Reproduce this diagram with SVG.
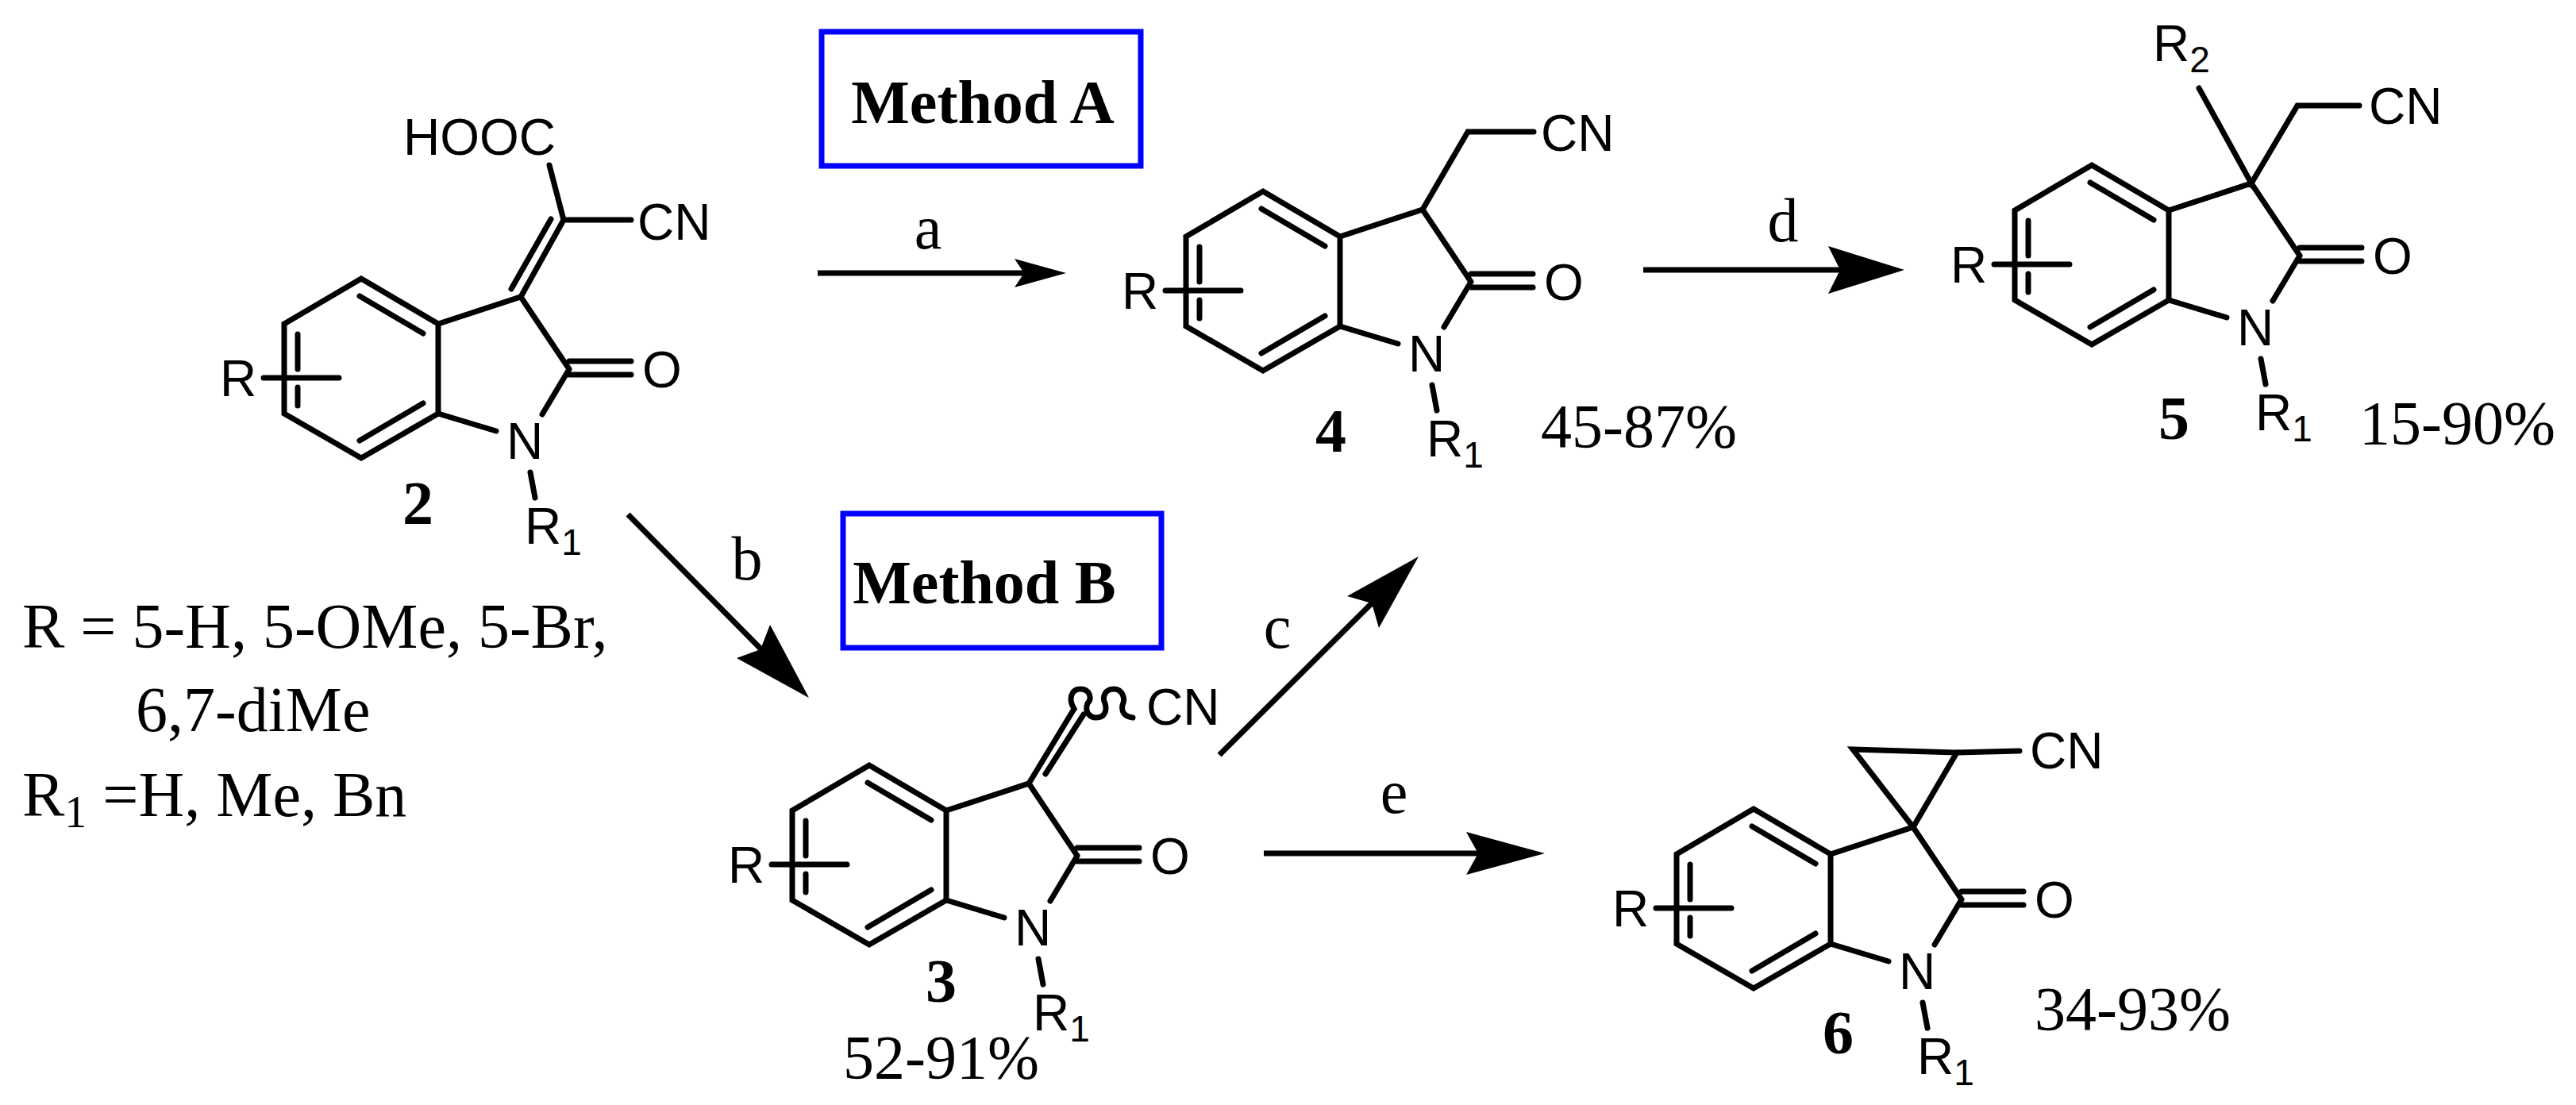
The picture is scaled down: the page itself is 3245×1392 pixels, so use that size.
<svg xmlns="http://www.w3.org/2000/svg" xmlns:xlink="http://www.w3.org/1999/xlink" width="3245" height="1392" viewBox="0 0 3245 1392">
<style>
.b{stroke:#000;stroke-width:7;fill:none;stroke-linecap:round;stroke-linejoin:miter}
.at{font-family:"Liberation Sans",Arial,sans-serif;font-size:64px;fill:#000}
.sub{font-size:46px}
.num{font-family:"Liberation Serif","Times New Roman",serif;font-weight:bold;font-size:78px;fill:#000}
.tx{font-family:"Liberation Serif","Times New Roman",serif;font-size:78px;fill:#000}
.lg{font-family:"Liberation Serif","Times New Roman",serif;font-size:80px;fill:#000}
.box{fill:none;stroke:#0000ff;stroke-width:7}
.mt{font-family:"Liberation Serif","Times New Roman",serif;font-weight:bold;font-size:78px;fill:#000}
.ar{stroke:#000;stroke-width:7;fill:none}
.hd{fill:#000}
</style>
<defs>
<g id="core">
<path class="b" d="M0,0 L97,57 L97,170 L0,226 L-97,170 L-97,57 Z"/>
<path class="b" d="M-80,70 L-80,114 M-80,137 L-80,160 M-2,22 L78,69 M78,157 L-2,204"/>
<path class="b" d="M97,57 L201,23 L262,114 M97,170 L170,192 M228,171 L262,114 M262,104 L340,104 M262,121 L340,121 M213,244 L219,276 M-123,125 L-28,125"/>
<text class="at" x="354" y="137">O</text>
<text class="at" x="183" y="227">N</text>
<text class="at" x="-178" y="148">R</text>
<text class="at" x="206" y="334">R<tspan class="sub" dy="14">1</tspan></text>
</g>
</defs>

<g id="method-a"><rect class="box" x="1035" y="40" width="402" height="169"/><text class="mt" x="1238" y="155" text-anchor="middle">Method A</text></g>
<g id="method-b"><rect class="box" x="1062" y="647" width="401" height="169"/><text class="mt" x="1240" y="760" text-anchor="middle">Method B</text></g>

<g id="compound-2">
<use xlink:href="#core" href="#core" transform="translate(455,351)"/>
<path class="b" d="M656,374 L710,277 L692,208 M694,276 L644,364 M710,277 L795,277"/>
<text class="at" x="508" y="195">HOOC</text>
<text class="at" x="803" y="302">CN</text>
<text class="num" x="507" y="660">2</text>
</g>

<g id="compound-4">
<use xlink:href="#core" href="#core" transform="translate(1591,241)"/>
<path class="b" d="M1792,264 L1849,166 L1932,166"/>
<text class="at" x="1941" y="190">CN</text>
<text class="num" x="1657" y="569">4</text>
<text class="tx" x="1941" y="563">45-87%</text>
</g>

<g id="compound-5">
<use xlink:href="#core" href="#core" transform="translate(2635,208)"/>
<path class="b" d="M2770,111 L2836,231 L2894,133 L2972,133"/>
<text class="at" x="2712" y="77">R<tspan class="sub" dy="14">2</tspan></text>
<text class="at" x="2984" y="156">CN</text>
<text class="num" x="2719" y="553">5</text>
<text class="tx" x="2972" y="559">15-90%</text>
</g>

<g id="compound-3">
<use xlink:href="#core" href="#core" transform="translate(1095,964)"/>
<path class="b" d="M1296,987 L1353,893 M1317,975 L1365,900"/>
<path class="b" d="M1353,893 C1345,880 1350,868 1361,868 C1373,868 1376,880 1370,886 C1366,896 1372,904 1381,904 C1391,904 1395,896 1392,886 C1388,878 1392,868 1403,868 C1414,868 1418,880 1414,888 C1412,898 1418,903 1427,904"/>
<text class="at" x="1444" y="913">CN</text>
<text class="num" x="1166" y="1262">3</text>
<text class="tx" x="1062" y="1358">52-91%</text>
</g>

<g id="compound-6">
<use xlink:href="#core" href="#core" transform="translate(2209,1019)"/>
<path class="b" d="M2410,1042 L2334,944 L2465,948 Z M2465,948 L2544,946"/>
<text class="at" x="2557" y="968">CN</text>
<text class="num" x="2296" y="1327">6</text>
<text class="tx" x="2563" y="1297">34-93%</text>
</g>

<g id="legend">
<text class="lg" x="28" y="816">R = 5-H, 5-OMe, 5-Br,</text>
<text class="lg" x="171" y="921">6,7-diMe</text>
<text class="lg" x="28" y="1028">R<tspan font-size="56" dy="14">1</tspan><tspan dy="-14"> =H, Me, Bn</tspan></text>
</g>

<g id="connectors">
<line class="ar" x1="1030" y1="344" x2="1290" y2="344"/>
<polygon class="hd" points="1343,344 1278,326 1290,344 1278,362"/>
<text class="tx" x="1169" y="313" text-anchor="middle">a</text>

<line class="ar" x1="2070" y1="340" x2="2330" y2="340"/>
<polygon class="hd" points="2399,340 2303,310 2318,340 2303,370"/>
<text class="tx" x="2246" y="304" text-anchor="middle">d</text>

<line class="ar" x1="1592" y1="1075" x2="1880" y2="1075"/>
<polygon class="hd" points="1946,1075 1847,1048 1862,1075 1847,1102"/>
<text class="tx" x="1756" y="1024" text-anchor="middle">e</text>

<line class="ar" x1="791" y1="648" x2="960" y2="819"/>
<polygon class="hd" points="1019,879 928,829 958,818 970,787"/>
<text class="tx" x="941" y="730" text-anchor="middle">b</text>

<line class="ar" x1="1536" y1="951" x2="1740" y2="748"/>
<polygon class="hd" points="1787,701 1737,791 1728,760 1697,751"/>
<text class="tx" x="1609" y="816" text-anchor="middle">c</text>
</g>
</svg>
